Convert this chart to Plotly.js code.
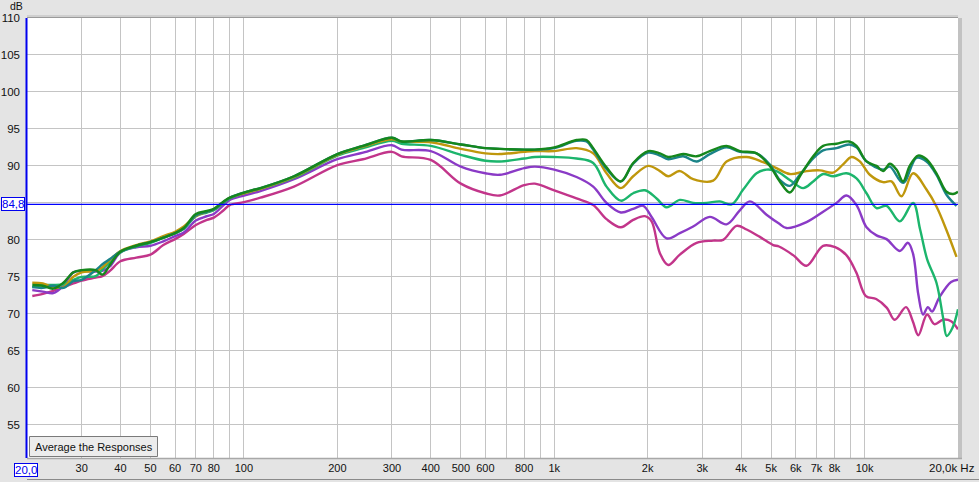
<!DOCTYPE html>
<html>
<head>
<meta charset="utf-8">
<script src="https://cdn.plot.ly/plotly-3.0.1.min.js"></script>
<style>
html,body{margin:0;padding:0;background:#e4e4e4;}
#chart{width:979px;height:482px;}
</style>
</head>
<body>
<div id="chart"></div>
<script>
// ---- Data ----
const FREQ_LOW = [20.8, 22.5, 24.3, 26.2, 28.2, 30, 33.3, 35, 37, 40, 45, 50, 55, 60, 64, 70, 76, 80, 86, 90, 100, 113, 145, 200, 242, 300, 322, 400, 500, 600, 668, 800, 866, 1000];

const DG_LOW = [73.9, 73.8, 73.4, 74.2, 75.6, 75.9, 75.9, 75.3, 76.6, 78.4, 79.2, 79.7, 80.3, 80.9, 81.6, 83.5, 83.9, 84.2, 85.2, 85.7, 86.4, 87.0, 88.6, 91.6, 92.7, 93.8, 93.3, 93.5, 92.9, 92.4, 92.3, 92.2, 92.2, 92.5];
const TL_LOW = [73.6, 73.5, 73.8, 73.5, 74.4, 74.6, 75.9, 76.7, 77.4, 78.4, 79.2, 79.7, 80.3, 80.9, 81.5, 83.3, 83.8, 84.1, 85.1, 85.7, 86.4, 87.0, 88.6, 91.6, 92.7, 93.8, 93.3, 93.5, 92.9, 92.4, 92.3, 92.2, 92.2, 92.4];
const GD_LOW = [74.2, 74.1, 73.6, 73.6, 75.0, 75.6, 75.8, 76.3, 77.3, 78.5, 79.3, 79.8, 80.5, 81.1, 81.8, 83.2, 83.8, 84.1, 85.1, 85.7, 86.3, 86.9, 88.5, 91.5, 92.6, 93.6, 93.3, 93.2, 92.3, 91.7, 91.6, 91.9, 92.0, 92.0];
const GN_LOW = [73.6, 73.9, 73.9, 74.0, 74.6, 75.0, 75.1, 76.0, 77.0, 78.3, 79.1, 79.6, 80.3, 80.9, 81.5, 83.2, 83.7, 84.0, 85.0, 85.6, 86.3, 86.9, 88.4, 91.4, 92.4, 93.4, 93.0, 92.7, 91.5, 90.7, 90.6, 91.0, 91.2, 91.2];
const PU_LOW = [73.2, 73.0, 72.8, 73.8, 75.6, 75.8, 75.7, 75.8, 76.4, 78.3, 79.0, 79.2, 79.8, 80.5, 81.0, 82.6, 83.2, 83.5, 84.7, 85.4, 86.0, 86.6, 88.2, 90.9, 91.8, 92.8, 92.2, 92.0, 89.9, 89.0, 88.8, 89.7, 89.9, 89.5];
const MG_LOW = [72.4, 72.7, 73.1, 73.6, 74.1, 74.5, 74.9, 75.1, 75.8, 77.1, 77.6, 78.0, 79.3, 80.1, 80.8, 82.0, 82.7, 83.0, 84.0, 84.7, 85.1, 85.7, 87.2, 90.1, 90.9, 91.9, 91.3, 90.8, 87.6, 86.3, 86.0, 87.4, 87.6, 86.7];

const DG_HF_FREQ = [1180, 1271, 1335, 1474, 1639, 1796, 2008, 2190, 2329, 2603, 2875, 3172, 3591, 3963, 4487, 4950, 5331, 5742, 6186, 6830, 7353, 8120, 8917, 9419, 10146, 10925, 11473, 12060, 12670, 13307, 13980, 14872, 15828, 17046, 18365, 19282, 20000];
const DG_HF = [93.5, 93.5, 92.4, 89.8, 87.9, 90.4, 92.0, 91.7, 91.2, 91.6, 91.3, 92.0, 92.7, 92.0, 91.7, 90.0, 87.9, 86.4, 88.6, 91.3, 92.7, 93.0, 93.3, 92.7, 90.6, 90.0, 89.3, 90.3, 89.5, 87.9, 90.0, 91.4, 90.9, 89.0, 86.5, 86.2, 86.5];

const TL_HF_FREQ = [1180, 1271, 1335, 1474, 1639, 1796, 2008, 2190, 2329, 2603, 2875, 3172, 3591, 3963, 4487, 4950, 5331, 5742, 6186, 6830, 7353, 8120, 8917, 9419, 10146, 11473, 12060, 13307, 14695, 15828, 17046, 18365, 19780];
const TL_HF = [93.4, 93.3, 92.2, 89.6, 87.9, 90.3, 91.8, 91.4, 90.9, 91.3, 90.6, 91.6, 92.5, 91.9, 91.7, 90.2, 88.1, 87.3, 88.8, 91.0, 92.1, 92.4, 92.9, 92.5, 90.6, 89.5, 89.9, 87.7, 91.1, 90.6, 88.8, 86.1, 84.6];

const GD_HF_FREQ = [1180, 1335, 1474, 1639, 1796, 2008, 2190, 2329, 2539, 2803, 3252, 3591, 4167, 4710, 5203, 5742, 6500, 7175, 7918, 8527, 9076, 9652, 10395, 11473, 12210, 13148, 14330, 15828, 17046, 18365, 19780];
const GD_HF = [92.4, 91.7, 89.0, 87.0, 88.6, 90.0, 89.3, 88.6, 89.3, 88.2, 88.0, 90.6, 91.2, 90.5, 89.7, 88.9, 89.3, 89.4, 89.1, 90.2, 91.2, 90.6, 88.8, 87.8, 87.9, 85.9, 89.0, 86.8, 84.5, 81.3, 77.7];

const GN_HF_FREQ = [1180, 1335, 1474, 1639, 1796, 1959, 2137, 2301, 2539, 2803, 3095, 3417, 3727, 4063, 4487, 4831, 5203, 5742, 6340, 6830, 7353, 7918, 8746, 9419, 10146, 10925, 11766, 12983, 14330, 15100, 15900, 17046, 17900, 18400, 19200, 20000];
const GN_HF = [91.0, 90.4, 87.2, 85.3, 86.3, 86.7, 85.6, 84.4, 85.4, 85.0, 85.0, 85.2, 84.8, 86.8, 89.0, 89.5, 89.3, 88.1, 87.0, 87.9, 88.9, 88.6, 89.0, 88.3, 86.3, 84.3, 84.6, 82.5, 85.0, 81.4, 77.4, 74.2, 69.5, 67.0, 68.1, 70.6];

const PU_HF_FREQ = [1180, 1335, 1474, 1639, 1796, 1934, 2059, 2301, 2539, 2803, 3172, 3591, 3963, 4270, 4831, 5300, 5603, 6500, 7353, 8120, 8746, 9419, 10146, 10925, 11766, 12983, 13800, 14330, 14900, 15436, 16000, 16500, 17400, 19000, 20000];
const PU_HF = [88.5, 87.2, 85.0, 83.7, 84.2, 84.6, 83.1, 80.2, 80.9, 81.8, 83.1, 82.1, 84.0, 85.2, 83.4, 82.2, 81.6, 82.4, 83.8, 85.0, 86.0, 84.7, 81.7, 80.6, 80.1, 78.5, 79.6, 78.1, 72.6, 69.9, 70.9, 70.3, 72.2, 74.3, 74.6];

const MG_HF_FREQ = [1180, 1335, 1474, 1639, 1796, 1959, 2059, 2190, 2329, 2539, 2875, 3252, 3502, 3867, 4167, 4598, 5073, 5300, 5900, 6500, 7350, 8040, 8750, 9400, 10100, 10900, 11800, 12500, 13600, 14300, 14900, 15900, 16800, 17900, 19000, 20000];
const MG_HF = [85.6, 84.7, 82.8, 81.7, 82.7, 83.2, 82.5, 78.2, 76.6, 78.0, 79.6, 79.9, 80.0, 81.9, 81.4, 80.4, 79.3, 79.1, 77.9, 76.5, 79.2, 79.0, 77.9, 75.6, 72.4, 72.0, 70.8, 69.2, 70.9, 69.0, 67.1, 69.9, 68.6, 69.2, 69.0, 67.9];

const GRID_FREQS = [20, 30, 40, 50, 60, 70, 80, 90, 100, 200, 300, 400, 500, 600, 700, 800, 900, 1000, 2000, 3000, 4000, 5000, 6000, 7000, 8000, 9000, 10000, 20000];
const GRID_LABELS = ['', '30', '40', '50', '60', '70', '80', '', '100', '200', '300', '400', '500', '600', '', '800', '', '1k', '2k', '3k', '4k', '5k', '6k', '7k', '8k', '', '10k', ''];
const DB_TICKS = [55, 60, 65, 70, 75, 80, 85, 90, 95, 100, 105, 110];
const DB_LABELS = ['55', '60', '65', '70', '75', '80', '', '90', '95', '100', '105', '110'];
const REF_LEVEL = 84.8;

// ---- Series ----
const SERIES = [
  {name: 'M', color: '#c2358a', lo: MG_LOW, hf: MG_HF, hfF: MG_HF_FREQ},
  {name: 'P', color: '#8a3ac6', lo: PU_LOW, hf: PU_HF, hfF: PU_HF_FREQ},
  {name: 'G', color: '#1cb56c', lo: GN_LOW, hf: GN_HF, hfF: GN_HF_FREQ},
  {name: 'O', color: '#bf970c', lo: GD_LOW, hf: GD_HF, hfF: GD_HF_FREQ},
  {name: 'T', color: '#1b8488', lo: TL_LOW, hf: TL_HF, hfF: TL_HF_FREQ},
  {name: 'D', color: '#15871c', lo: DG_LOW, hf: DG_HF, hfF: DG_HF_FREQ}
];

const traces = SERIES.map(s => ({
  type: 'scatter', mode: 'lines', name: s.name,
  x: FREQ_LOW.concat(s.hfF), y: s.lo.concat(s.hf),
  line: {color: s.color, width: 2.4, shape: 'spline', smoothing: 1},
  hoverinfo: 'skip', showlegend: false
}));

// pixel helpers for overlay decorations
const L = 27, R = 958, T = 18, B = 458;
const px = v => (v - L) / (R - L);
const py = v => (B - v) / (B - T);

const FONT = 'Liberation Sans, Arial, sans-serif';

const layout = {
  width: 979, height: 482,
  margin: {l: L, r: 979 - R, t: T, b: 482 - B, pad: 0},
  paper_bgcolor: '#e4e4e4',
  plot_bgcolor: '#ffffff',
  font: {family: FONT, size: 11, color: '#111'},
  showlegend: false,
  xaxis: {
    type: 'log', range: [Math.log10(20), Math.log10(20000)],
    tickmode: 'array', tickvals: GRID_FREQS, ticktext: GRID_LABELS,
    showgrid: true, gridcolor: '#c4c4c4', gridwidth: 1,
    zeroline: false, showline: false, ticks: '', ticklen: 0,
    ticklabelstandoff: 2,
    tickfont: {family: FONT, size: 11, color: '#111'},
    automargin: false, fixedrange: true
  },
  yaxis: {
    range: [50.5, 110], tickmode: 'array', tickvals: DB_TICKS, ticktext: DB_LABELS,
    showgrid: true, gridcolor: '#c4c4c4', gridwidth: 1,
    zeroline: false, showline: false, ticks: '', ticklen: 0,
    ticklabelstandoff: 6,
    tickfont: {family: FONT, size: 11.5, color: '#111'},
    automargin: false, fixedrange: true
  },
  shapes: [
    {type: 'line', xref: 'paper', yref: 'paper', x0: px(L), x1: px(979), y0: py(479.5), y1: py(479.5), line: {color: '#8a8a8a', width: 1}},
    // right shadow
    {type: 'rect', xref: 'paper', yref: 'paper', x0: 1, x1: px(R + 4), y0: py(B + 1), y1: py(T), fillcolor: '#c2c2c2', line: {width: 0}},
    // top shadow / border
    {type: 'line', xref: 'paper', yref: 'paper', x0: 0, x1: 1, y0: py(T - 0.5), y1: py(T - 0.5), line: {color: '#9a9a9a', width: 1}},
    {type: 'line', xref: 'paper', yref: 'paper', x0: 0, x1: 1, y0: py(T - 2), y1: py(T - 2), line: {color: '#cfcfcf', width: 2}},
    // bottom border
    {type: 'line', xref: 'paper', yref: 'paper', x0: 0, x1: px(R + 4), y0: py(B + 0.5), y1: py(B + 0.5), line: {color: '#a8a8a8', width: 1.5}},
    // left blue axis line
    {type: 'line', xref: 'paper', yref: 'paper', x0: px(L - 0.5), x1: px(L - 0.5), y0: py(B), y1: py(T), line: {color: '#0000ee', width: 2}},
    // reference level
    {type: 'line', xref: 'paper', yref: 'y', x0: 0, x1: 1, y0: REF_LEVEL, y1: REF_LEVEL, line: {color: '#0000ff', width: 1.2}, layer: 'above'},
    // button
    {type: 'rect', xref: 'paper', yref: 'paper', x0: px(29.5), x1: px(157.5), y0: py(456.5), y1: py(436.5), fillcolor: '#ececec', line: {color: '#7a7a7a', width: 1}, layer: 'above'}
  ],
  annotations: [
    {xref: 'paper', yref: 'paper', x: px(16), y: py(6), text: 'dB', showarrow: false, xanchor: 'center', yanchor: 'middle', font: {family: FONT, size: 10.5, color: '#111'}, borderpad: 0},
    {xref: 'paper', yref: 'y', x: px(1), y: REF_LEVEL, text: '84,8', showarrow: false, xanchor: 'left', yanchor: 'middle', font: {family: FONT, size: 11.5, color: '#0000ee'}, bgcolor: '#ffffff', bordercolor: '#0000ee', borderwidth: 1, borderpad: 0},
    {xref: 'paper', yref: 'paper', x: px(14), y: py(470), text: '20,0', showarrow: false, xanchor: 'left', yanchor: 'middle', font: {family: FONT, size: 11.5, color: '#0000ee'}, bgcolor: '#ffffff', bordercolor: '#0000ee', borderwidth: 1, borderpad: 0},
    {xref: 'paper', yref: 'paper', x: px(977), y: py(468), text: '20,0k Hz', showarrow: false, xanchor: 'right', yanchor: 'middle', font: {family: FONT, size: 11.5, color: '#111'}},
    {xref: 'paper', yref: 'paper', x: px(93.5), y: py(446.5), text: 'Average the Responses', showarrow: false, xanchor: 'center', yanchor: 'middle', font: {family: FONT, size: 11, color: '#111'}}
  ]
};

Plotly.newPlot('chart', traces, layout, {staticPlot: true, displayModeBar: false});
</script>
</body>
</html>
